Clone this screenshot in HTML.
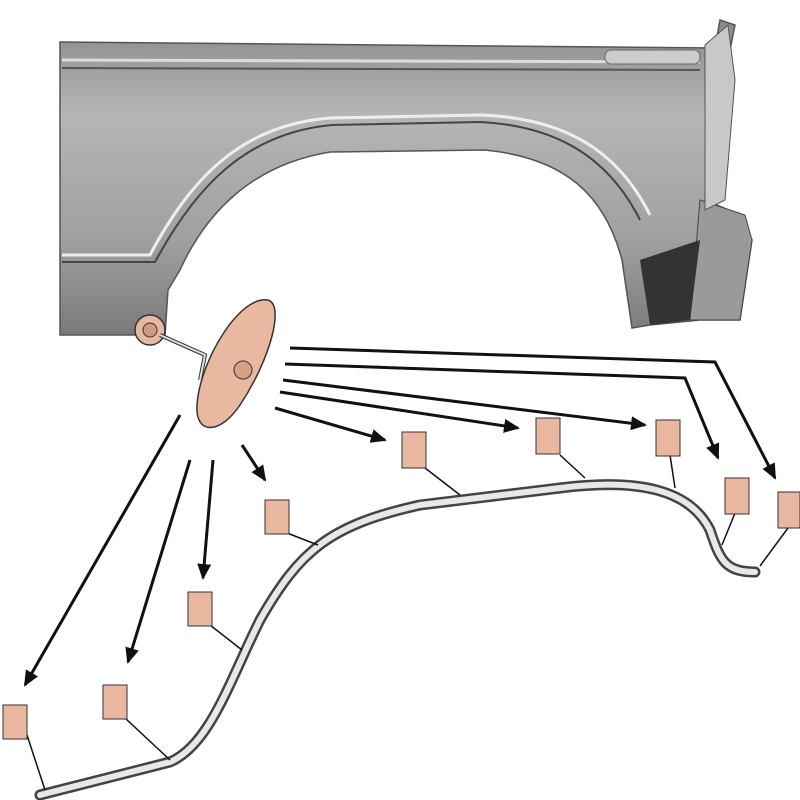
<!DOCTYPE html>
<html><head><meta charset="utf-8"><style>html,body{margin:0;padding:0;background:#fff}svg{display:block}</style></head>
<body>
<svg width="800" height="800" viewBox="0 0 800 800" xmlns="http://www.w3.org/2000/svg">
<defs>
<linearGradient id="g" x1="0" y1="0" x2="0" y2="1">
<stop offset="0" stop-color="#8a8a8a"/><stop offset="0.3" stop-color="#b5b5b5"/><stop offset="0.7" stop-color="#a0a0a0"/><stop offset="1" stop-color="#7a7a7a"/>
</linearGradient>
<marker id="ah" markerWidth="16" markerHeight="14" refX="14" refY="7" orient="auto" markerUnits="userSpaceOnUse" viewBox="0 0 16 14">
<path d="M0,0 L16,7 L0,14 z" fill="#111"/></marker>
</defs>
<path d="M60,42 L715,48 L720,20 L735,25 L728,60 L720,120 L705,200 L740,215 L752,240 L740,320 L700,320 L650,325 L632,328 L622,260 C605,195 565,158 485,150 L330,152 C250,165 205,215 180,270 L168,290 L165,335 L60,335 Z" fill="url(#g)" stroke="#555" stroke-width="1.5"/>
<path d="M62,60 L700,62" stroke="#ddd" stroke-width="3"/>
<path d="M62,68 L700,70" stroke="#555" stroke-width="2"/>
<rect x="605" y="50" width="95" height="14" rx="6" fill="#ccc" stroke="#666"/>
<path d="M62,255 L150,255 C190,180 240,125 330,118 L480,115 C570,118 620,155 650,215" fill="none" stroke="#eee" stroke-width="3"/>
<path d="M62,262 L155,262 C195,188 245,133 332,125 L480,122 C560,126 610,160 640,220" fill="none" stroke="#444" stroke-width="2"/>
<path d="M700,200 L745,215 L752,240 L740,320 L690,320 Z" fill="#9a9a9a" stroke="#444"/>
<path d="M640,260 L700,240 L690,320 L650,325 Z" fill="#333"/>
<path d="M705,45 L728,25 L735,80 L725,200 L705,210 Z" fill="#c8c8c8" stroke="#555"/>
<circle cx="150" cy="330" r="15" fill="#e8b9a2" stroke="#333" stroke-width="1.5"/>
<circle cx="150" cy="330" r="7" fill="#d19a80" stroke="#333"/>
<path d="M160,335 L205,355 L200,380" fill="none" stroke="#333" stroke-width="4"/>
<path d="M160,335 L205,355 L200,380" fill="none" stroke="#ddd" stroke-width="2"/>
<path d="M268,300 C285,305 270,360 240,405 C220,435 195,435 197,405 C200,360 240,295 268,300 Z" fill="#eab8a0" stroke="#333" stroke-width="1.5"/>
<circle cx="243" cy="370" r="9" fill="#d9a088" stroke="#333"/>
<path d="M40,795 L170,762 C210,745 230,680 260,620 C300,550 330,525 420,505 L560,488 C640,478 690,490 710,530 C720,560 725,572 755,572" fill="none" stroke="#444" stroke-width="11" stroke-linecap="round"/>
<path d="M40,795 L170,762 C210,745 230,680 260,620 C300,550 330,525 420,505 L560,488 C640,478 690,490 710,530 C720,560 725,572 755,572" fill="none" stroke="#e8e8e8" stroke-width="6" stroke-linecap="round"/>
<g stroke="#111" stroke-width="1.5">
<line x1="27" y1="735" x2="45" y2="790"/>
<line x1="125" y1="718" x2="170" y2="760"/>
<line x1="210" y1="625" x2="242" y2="650"/>
<line x1="287" y1="533" x2="318" y2="545"/>
<line x1="425" y1="468" x2="460" y2="495"/>
<line x1="560" y1="455" x2="585" y2="478"/>
<line x1="670" y1="455" x2="675" y2="488"/>
<line x1="735" y1="513" x2="722" y2="545"/>
<line x1="788" y1="528" x2="760" y2="566"/>
</g>
<g fill="#eab8a0" stroke="#333" stroke-width="1">
<rect x="3" y="705" width="24" height="34"/>
<rect x="103" y="685" width="24" height="34"/>
<rect x="188" y="592" width="24" height="34"/>
<rect x="265" y="500" width="24" height="34"/>
<rect x="402" y="432" width="24" height="36"/>
<rect x="536" y="418" width="24" height="36"/>
<rect x="656" y="420" width="24" height="36"/>
<rect x="725" y="478" width="24" height="36"/>
<rect x="778" y="492" width="22" height="36"/>
</g>
<g stroke="#111" stroke-width="3" fill="none" marker-end="url(#ah)">
<line x1="180" y1="415" x2="25" y2="685"/>
<line x1="190" y1="460" x2="128" y2="662"/>
<line x1="213" y1="460" x2="203" y2="578"/>
<line x1="242" y1="445" x2="265" y2="480"/>
<line x1="275" y1="408" x2="385" y2="440"/>
<line x1="280" y1="392" x2="518" y2="428"/>
<line x1="283" y1="380" x2="645" y2="425"/>
<polyline points="285,364 685,378 718,458"/>
<polyline points="290,348 715,362 775,478"/>
</g>
</svg>
</body></html>
